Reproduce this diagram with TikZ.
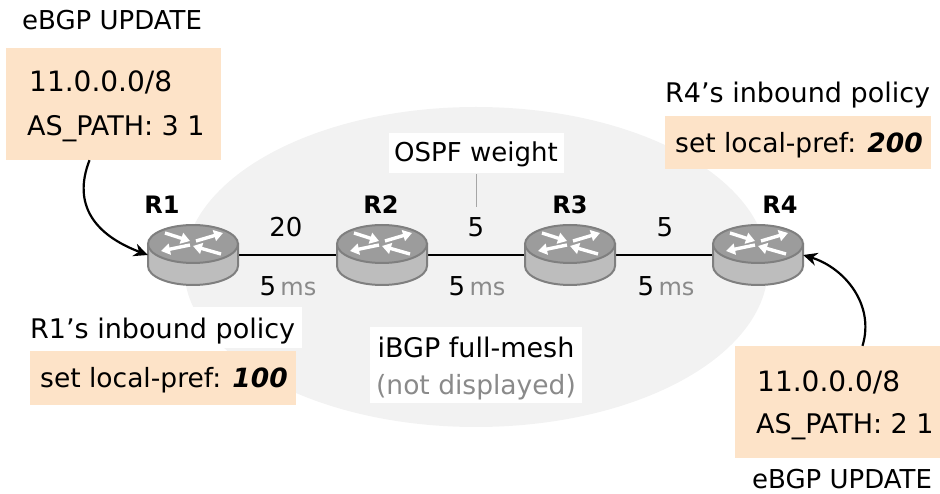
\documentclass[tikz,border=0pt]{standalone}
\usepackage{fontspec}
\setmainfont{DejaVu Sans}
\usetikzlibrary{arrows.meta}
\definecolor{boxc}{HTML}{FDE3C8}
\definecolor{bgc}{HTML}{F2F2F2}
\definecolor{rtop}{HTML}{9C9C9C}
\definecolor{rside}{HTML}{BDBDBD}
\definecolor{redge}{HTML}{7F7F7F}
\definecolor{txtg}{HTML}{8A8A8A}
\tikzset{
  x=1pt,y=-1pt,
  txt/.style={inner sep=0pt,font=\fontsize{27}{30}\selectfont,text=black,anchor=base},
  setl/.style={txt,font=\fontsize{26.5}{30}\selectfont,anchor=base west},
  num/.style={txt,font=\fontsize{26}{30}\selectfont},
  msl/.style={txt,font=\fontsize{24}{30}\selectfont},
  pfx/.style={txt,font=\fontsize{28}{30}\selectfont,anchor=base west},
  bold/.style={txt,font=\fontsize{24}{30}\selectfont\bfseries},
  orangebox/.style={fill=boxc,draw=none,inner sep=0pt},
  whitebox/.style={fill=white,draw=none,inner sep=0pt},
  rnode/.style={minimum width=90pt,minimum height=60pt,inner sep=0pt,draw=none},
  linkl/.style={draw=black,line width=1.4pt},
  arr/.style={draw=black,line width=2.2pt,-{Stealth[length=14pt,width=13pt]}},
  wa/.style={draw=white,line width=3.4pt,-{Triangle[length=9pt,width=11pt]}}
}
\newcommand{\routerdraw}[1]{%
  \begin{scope}[shift={(#1)}]
    \draw[fill=rside,draw=redge,line width=2pt] (-45,0) -- (-45,22) arc[start angle=180,end angle=360,x radius=45,y radius=-19] -- (45,0) -- cycle;
    \draw[fill=rtop,draw=redge,line width=2pt] (0,0) ellipse[x radius=45,y radius=19];
    \draw[wa] (-28,-11) -- (-3,-3);
    \draw[wa] (3,-3) -- (30,-11);
    \draw[wa] (-3,1) -- (-32,7);
    \draw[wa] (28,10) -- (0,2);
  \end{scope}}
\begin{document}
\begin{tikzpicture}
\useasboundingbox (0,0) rectangle (940,494);
\fill[bgc] (476,267) ellipse[x radius=292,y radius=160];
\node[rnode] (R1) at (193,255) {};
\node[rnode] (R2) at (382,255) {};
\node[rnode] (R3) at (570,255) {};
\node[rnode] (R4) at (758,255) {};
\draw[linkl] (R1) -- (R2);
\draw[linkl] (R2) -- (R3);
\draw[linkl] (R3) -- (R4);
\routerdraw{193,244}\routerdraw{382,244}\routerdraw{570,244}\routerdraw{758,244}
\node[bold] at (162,214) {R1};
\node[bold] at (381,214) {R2};
\node[bold] at (570,214) {R3};
\node[bold] at (780,214) {R4};
\node[orangebox,minimum width=215pt,minimum height=112pt] (b1) at (113.5,104) {};
\node[pfx] at (29,92) {11.0.0.0/8};
\node[txt,anchor=base west] at (27,136) {AS\_PATH: 3 1};
\node[num,anchor=base west] at (22,30) {eBGP UPDATE};
\node[orangebox,minimum width=266pt,minimum height=53pt] (b2) at (798,142.5) {};
\node[txt,anchor=base west] at (665,103) {R4’s inbound policy};
\node[setl] at (675,153) {set local-pref: \textbf{\textit{200}}};
\node[whitebox,minimum width=272pt,minimum height=41pt] (w3) at (166,327.5) {};
\node[orangebox,minimum width=266pt,minimum height=54pt] (b3) at (163,378) {};
\node[txt,anchor=base west] at (30,338) {R1’s inbound policy};
\node[setl] at (40,388) {set local-pref: \textbf{\textit{100}}};
\node[orangebox,minimum width=205pt,minimum height=112pt] (b4) at (837.5,402) {};
\node[pfx] at (757,391) {11.0.0.0/8};
\node[txt,anchor=base west] at (756,433) {AS\_PATH: 2 1};
\node[num,anchor=base west] at (752,488) {eBGP UPDATE};
\node[whitebox,minimum width=175pt,minimum height=40pt] (ospf) at (476.5,153) {};
\node[num] at (476,162) {OSPF weight};
\coordinate (ospfb) at (476,207);
\draw[draw=gray!70,line width=1pt] (ospf.south)++(-.5,1) -- (ospfb);
\node[num] at (286,237) {20};
\node[num] at (476,237) {5};
\node[num] at (665,237) {5};
\node[msl] at (288,296) {\fontsize{26}{30}\selectfont 5\,\textcolor{txtg}{\fontsize{24}{30}\selectfont ms}};
\node[msl] at (477,296) {\fontsize{26}{30}\selectfont 5\,\textcolor{txtg}{\fontsize{24}{30}\selectfont ms}};
\node[msl] at (666,296) {\fontsize{26}{30}\selectfont 5\,\textcolor{txtg}{\fontsize{24}{30}\selectfont ms}};
\node[whitebox,minimum width=212pt,minimum height=76pt] (ib) at (476,365) {};
\node[txt] at (476,358) {iBGP full-mesh};
\node[txt,font=\fontsize{26.5}{30}\selectfont,text=txtg] at (476,394) {(not displayed)};
\draw[arr] (b1.south) ++(-24,0) .. controls (72,205) and (95,235) .. (R1.west);
\draw[arr] (b4.north) ++(25,0) .. controls (875,305) and (845,268) .. (R4.east);
\end{tikzpicture}
\end{document}
